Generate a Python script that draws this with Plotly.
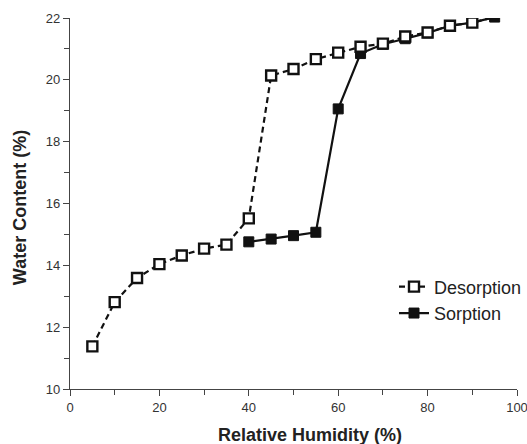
import plotly.graph_objects as go

# Data
des_rh = [5, 10, 15, 20, 25, 30, 35, 40, 45, 50, 55, 60, 65, 70, 75, 80, 85, 90]
des_wc = [11.38, 12.81, 13.59, 14.04, 14.32, 14.54, 14.67, 15.52, 20.14, 20.35, 20.67, 20.88, 21.07, 21.17, 21.40, 21.53, 21.75, 21.85]

sor_rh = [40, 45, 50, 55, 60, 65, 70, 75, 80, 85, 90, 95]
sor_wc = [14.76, 14.85, 14.96, 15.07, 19.06, 20.85, 21.15, 21.33, 21.52, 21.75, 21.85, 22.03]

x_ticks = [0, 20, 40, 60, 80, 100]
y_ticks = [10, 12, 14, 16, 18, 20, 22]

# desorption line continues to the shared end point
des_rh_line = des_rh + [sor_rh[-1]]
des_wc_line = des_wc + [sor_wc[-1]]

INK = "#111111"
FONT = "Liberation Sans, Arial"

fig = go.Figure()

fig.add_trace(go.Scatter(
    x=sor_rh, y=sor_wc, mode="lines+markers", name="Sorption",
    line=dict(color=INK, width=2.2, dash="solid"),
    marker=dict(symbol="square", size=10, color=INK, line=dict(color=INK, width=1)),
    legendrank=2,
))

fig.add_trace(go.Scatter(
    x=des_rh_line, y=des_wc_line, mode="lines", showlegend=False,
    line=dict(color=INK, width=2.2, dash="6px,4px"),
    hoverinfo="skip",
))

fig.add_trace(go.Scatter(
    x=des_rh, y=des_wc, mode="markers", showlegend=False,
    marker=dict(symbol="square", size=10, color="white", line=dict(color=INK, width=2.4)),
))

# legend entry for desorption (dashed line + open square)
fig.add_trace(go.Scatter(
    x=[None], y=[None], mode="lines+markers", name="Desorption",
    line=dict(color=INK, width=2.2, dash="6px,4px"),
    marker=dict(symbol="square", size=10, color="white", line=dict(color=INK, width=2.4)),
    legendrank=1,
))

axis_common = dict(
    showline=True, linecolor="#444444", linewidth=1.3,
    ticks="outside", ticklen=6, tickwidth=1.2, tickcolor="#444444",
    showgrid=False, zeroline=False, ticklabeloverflow="allow",
    tickfont=dict(family=FONT, size=13, color="#333333"),
    minor=dict(ticks="outside", ticklen=5, tickwidth=1.2, tickcolor="#444444", showgrid=False),
)

fig.update_xaxes(range=[0, 100], tickvals=x_ticks, **axis_common)
fig.update_yaxes(range=[10, 22], tickvals=y_ticks, **axis_common)
fig.update_xaxes(minor=dict(dtick=10, tick0=0))
fig.update_yaxes(minor=dict(dtick=1, tick0=10))

fig.update_layout(
    width=527, height=444,
    margin=dict(l=70, r=10, t=18, b=55, autoexpand=False),
    plot_bgcolor="white", paper_bgcolor="white",
    showlegend=True,
    legend=dict(
        x=1.004, y=0.24, xanchor="right", yanchor="middle",
        xref="container",
        font=dict(family=FONT, size=18, color="#222222"),
        bgcolor="rgba(0,0,0,0)", itemwidth=30,
        tracegroupgap=0,
    ),
    annotations=[
        dict(text="<b>Relative Humidity (%)</b>", x=(310 - 70) / 447, xref="paper",
             y=-0.123, yref="paper", showarrow=False, yanchor="middle",
             font=dict(family=FONT, size=18, color="#222222")),
        dict(text="<b>Water Content (%)</b>", x=-0.112, xref="paper", y=0.49, yref="paper",
             showarrow=False, textangle=-90, xanchor="center", yanchor="middle",
             font=dict(family=FONT, size=18, color="#222222")),
    ],
)

fig.write_html("out.html", post_script="document.body.style.margin='0';",
               config={"displayModeBar": False})
